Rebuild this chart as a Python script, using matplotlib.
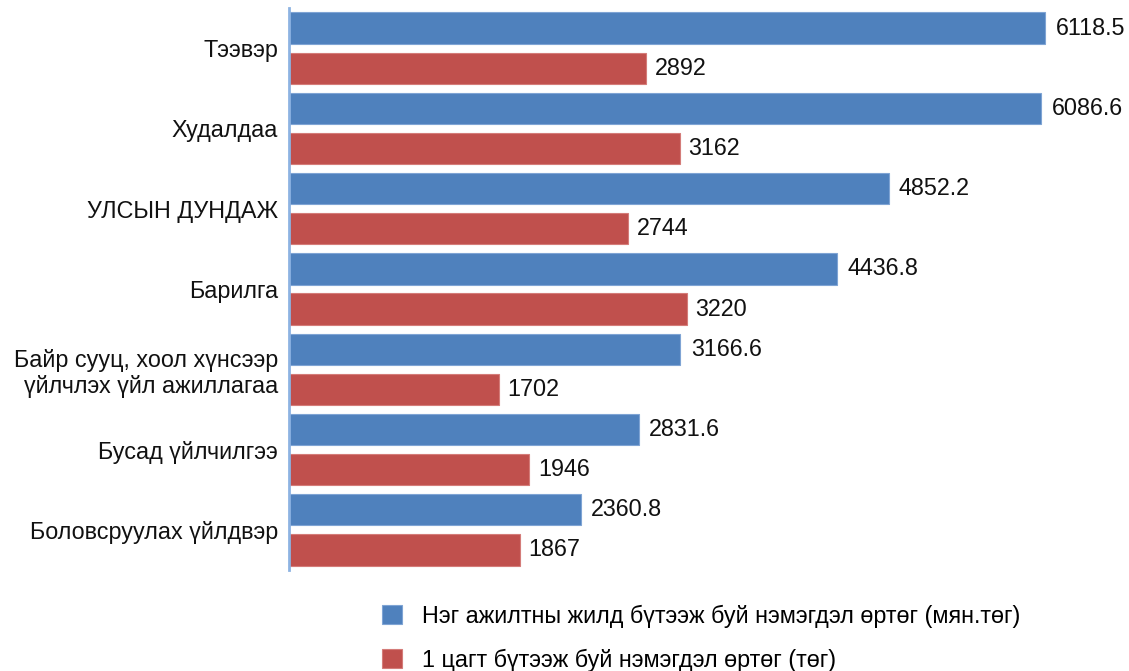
import matplotlib
matplotlib.use("Agg")
import matplotlib.pyplot as plt
import numpy as np

categories = ["Тээвэр", "Худалдаа", "УЛСЫН ДУНДАЖ", "Барилга",
              "Байр сууц, хоол хүнсээр\nүйлчлэх үйл ажиллагаа",
              "Бусад үйлчилгээ", "Боловсруулах үйлдвэр"]
annual_per_worker = [6118.5, 6086.6, 4852.2, 4436.8, 3166.6, 2831.6, 2360.8]
per_hour = [2892, 3162, 2744, 3220, 1702, 1946, 1867]
annual_labels = ["6118.5", "6086.6", "4852.2", "4436.8", "3166.6", "2831.6", "2360.8"]
hour_labels = ["2892", "3162", "2744", "3220", "1702", "1946", "1867"]
series_names = ["Нэг ажилтны жилд бүтээж буй нэмэгдэл өртөг (мян.төг)",
                "1 цагт бүтээж буй нэмэгдэл өртөг (төг)"]

plt.rcParams['font.family'] = ['Liberation Sans', 'DejaVu Sans']

W, H = 1129, 671
fig = plt.figure(figsize=(W / 100, H / 100), dpi=100)
left, right, top, bottom = 289, 1125, 8, 570
ax = fig.add_axes([left / W, 1 - bottom / H, (right - left) / W, (bottom - top) / H])

fs = 16.8
n = len(categories)
idx = np.arange(n)
blue_y = 2 * idx
red_y = 2 * idx + 1
bh = 0.78
b1 = ax.barh(blue_y, annual_per_worker, height=bh, color="#4F81BD",
             edgecolor="#7FA4D4", linewidth=0.8, label=series_names[0])
b2 = ax.barh(red_y, per_hour, height=bh, color="#C0504D",
             edgecolor="#D47C79", linewidth=0.8, label=series_names[1])
ax.bar_label(b1, labels=annual_labels, padding=7.5, fontsize=fs, color="#111111")
ax.bar_label(b2, labels=hour_labels, padding=6, fontsize=fs, color="#111111")

scale = 0.12356  # px per unit
ax.set_xlim(0, (right - left) / scale)
ax.set_ylim(2 * n - 0.5, -0.5)
ax.set_yticks(2 * idx + 0.5)
ax.set_yticklabels(categories, fontsize=fs, color="#111111", linespacing=1.2)
ax.tick_params(axis='y', length=0, pad=8)
ax.set_xticks([])
for s in ["top", "right", "bottom"]:
    ax.spines[s].set_visible(False)
ax.spines["left"].set_color("#8DB3E2")
ax.spines["left"].set_linewidth(2)

fig.legend(handles=[b1, b2], labels=series_names, loc="upper left",
           bbox_to_anchor=(373 / W, 1 - 595 / H), frameon=False,
           fontsize=fs, handlelength=0.85, handleheight=0.85,
           handletextpad=0.85, labelspacing=0.9, borderaxespad=0)

fig.savefig("out.png", dpi=100)
